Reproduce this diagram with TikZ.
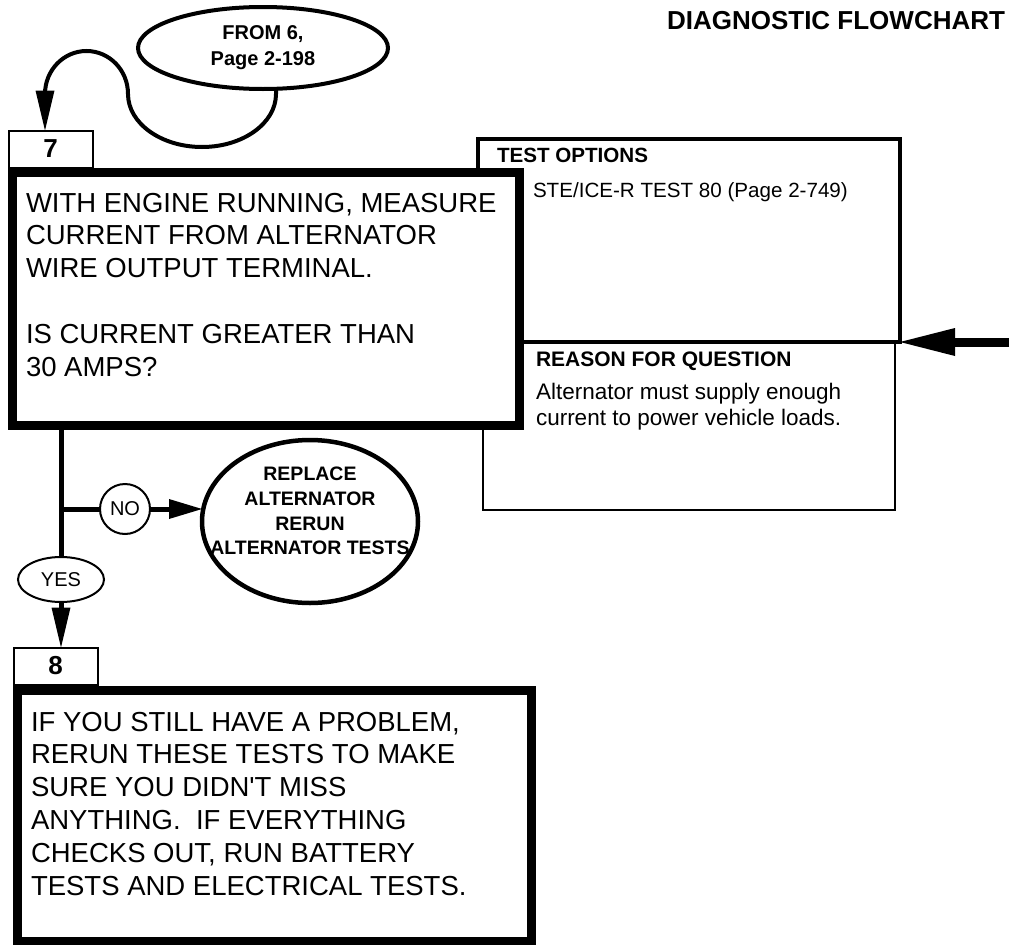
\documentclass[tikz,border=0pt]{standalone}
\usepackage{fontspec}
\setmainfont{Liberation Sans}
\usetikzlibrary{shapes.geometric,arrows.meta,calc}
\newcommand\myfmain{\fontsize{27.5}{32.8}\selectfont}
\newcommand\myfsmall{\fontsize{20.6}{25}\selectfont}
\newcommand\myfreason{\fontsize{22.5}{26.5}\selectfont}
\newcommand\myfoval{\fontsize{19.5}{24.7}\selectfont}
\newcommand\myftag{\fontsize{20}{24}\selectfont}
\begin{document}
\begin{tikzpicture}[x=1pt,y=-1pt,
  every node/.style={inner sep=0pt,outer sep=0pt},
  numbox/.style={draw,line width=2pt,fill=white,minimum width=84pt,minimum height=37pt,font=\fontsize{26}{30}\selectfont\bfseries},
  mainbox/.style={draw,fill=white,line width=9pt},
  infobox/.style={draw},
  oval/.style={ellipse,draw},
  txt/.style={anchor=base west},
  conn/.style={line width=5pt},
  bigtip/.style={-{Triangle[length=#1,width=19pt,line width=0pt]}},
]
\fill[white] (0,0) rectangle (1013,945);
\useasboundingbox (0,0) rectangle (1013,945);

% title
\node[anchor=base east,font=\fontsize{26}{30}\selectfont\bfseries] (title) at (1005,29) {DIAGNOSTIC FLOWCHART};

% side boxes
\node[infobox,line width=2.5pt,minimum width=412pt,minimum height=168pt] (reason) at (689,426) {};
\node[infobox,line width=3.5pt,minimum width=422pt,minimum height=203pt] (tests) at (689,240.5) {};
\node[txt,font=\myfsmall\bfseries] (testh) at (497,162) {TEST OPTIONS};
\node[txt,font=\myfsmall] (testt) at (533,197) {STE/ICE-R TEST 80 (Page 2-749)};
\node[txt,font=\fontsize{21}{25}\selectfont\bfseries] (reash) at (536,366) {REASON FOR QUESTION};
\node[txt,font=\myfreason] (reast) at (536,399) {\parbox[t]{350pt}{Alternator must supply enough\\current to power vehicle loads.}};

% start oval
\node[oval,line width=4pt,minimum width=250pt,minimum height=82pt,align=center,font=\fontsize{20}{26}\selectfont\bfseries] (from) at (263,48) {FROM 6,\\Page 2-198};

% step 7
\node[numbox] (b7) at (50.5,149) {7};
\node[mainbox,minimum width=506.5pt,minimum height=253pt] (m7) at (265.75,298.5) {};
\node[txt,font=\myfmain] (t7) at (26,212) {\parbox[t]{480pt}{WITH ENGINE RUNNING, MEASURE\\CURRENT FROM ALTERNATOR\\WIRE OUTPUT TERMINAL.\\[32.8pt]IS CURRENT GREATER THAN\\30 AMPS?}};

% decision
\node[oval,line width=4.5pt,minimum width=216pt,minimum height=163pt] (rep) at (310,521.5) {};
\node[align=center,font=\myfoval\bfseries] (rept) at (310,511) {REPLACE\\ALTERNATOR\\RERUN\\ALTERNATOR TESTS};
\node[circle,draw,line width=2pt,fill=white,minimum size=50pt,font=\myftag] (no) at (125,509) {NO};
\node[oval,line width=2pt,fill=white,minimum width=86pt,minimum height=45pt,font=\myftag] (yes) at (61,579.5) {YES};

% step 8
\node[numbox] (b8) at (55.5,666) {8};
\node[mainbox,minimum width=513.5pt,minimum height=251pt] (m8) at (274.25,815.5) {};
\node[txt,font=\myfmain] (t8) at (31,731) {\parbox[t]{490pt}{IF YOU STILL HAVE A PROBLEM,\\RERUN THESE TESTS TO MAKE\\SURE YOU DIDN\textquotesingle T MISS\\ANYTHING.\ \ IF EVERYTHING\\CHECKS OUT, RUN BATTERY\\TESTS AND ELECTRICAL TESTS.}};

% connectors
\coordinate (arrx) at (45,0);
\draw[line width=4pt,bigtip=40pt] ($(from.south)+(13,0)$) -- ++(0,5)
  arc[start angle=0,end angle=180,x radius=74,y radius=53]
  arc[start angle=0,end angle=-180,x radius=41.5,y radius=43]
  -- (b7.north -| arrx);
\draw[conn] (m7.south -| yes.north) -- (yes.north);
\coordinate (nj) at (61,509);
\draw[conn] (nj) -- (no.west);
\draw[conn,-{Triangle[length=33pt,width=20pt,line width=0pt]}] (no.east) -- (no.east -| rep.west);
\draw[conn,bigtip=40pt] (yes.south) -- (yes.south |- b8.north);
\coordinate (rin) at (1009,342);
\draw[line width=9pt,-{Triangle[length=55pt,width=28pt,line width=0pt]}] (rin) -- (tests.south east);
\end{tikzpicture}
\end{document}
